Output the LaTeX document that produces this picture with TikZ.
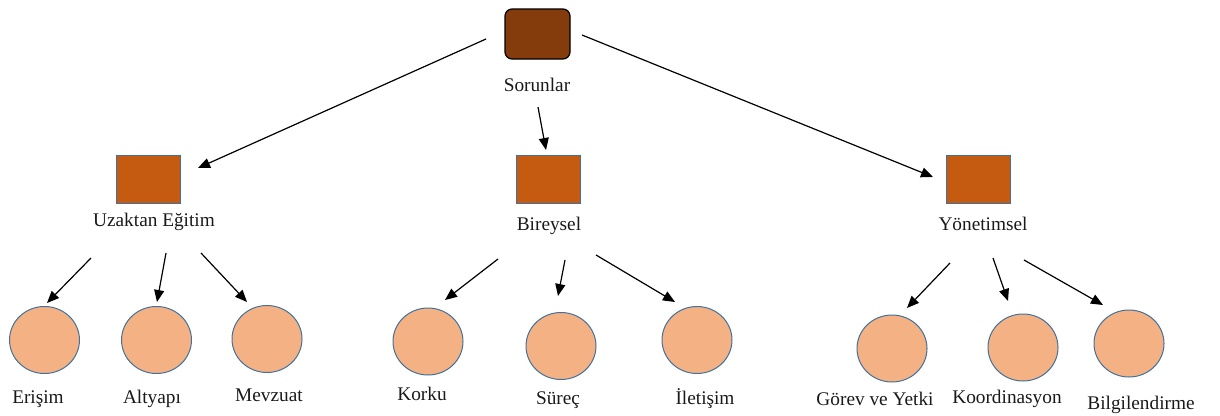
\documentclass[tikz,border=0pt]{standalone}
\usepackage{fontspec}
\setmainfont{Liberation Serif}
\usetikzlibrary{arrows.meta,shapes.geometric}
\definecolor{topfill}{HTML}{843C0C}
\definecolor{sqfill}{HTML}{C55A11}
\definecolor{cfill}{HTML}{F4B183}
\definecolor{bord}{HTML}{41719C}
\begin{document}
\begin{tikzpicture}[x=1pt,y=-1pt,
  lbl/.style={anchor=base,inner sep=0pt,font=\fontsize{19.3}{23}\selectfont,text=black!90},
  topbox/.style={draw=black,line width=1.2pt,fill=topfill,rounded corners=7pt,minimum width=65pt,minimum height=50pt,inner sep=0pt},
  sqbox/.style={draw=bord,line width=1pt,fill=sqfill,minimum width=64pt,minimum height=48pt,inner sep=0pt},
  leaf/.style={ellipse,draw=bord,line width=1pt,fill=cfill,minimum width=70pt,minimum height=67pt,inner sep=0pt},
  arr/.style={line width=1.2pt,-{Triangle[length=12pt,width=10pt]}}]
\useasboundingbox (0,0) rectangle (1220,415);
% top
\node[topbox] (top) at (537.5,34) {};
\node[lbl] (ltop) at (537,91) {Sorunlar};
% second level
\node[sqbox] (s1) at (148.5,179.5) {};
\node[lbl] (l1) at (154,226) {Uzaktan Eğitim};
\node[sqbox] (s2) at (548,179) {};
\node[lbl] (l2) at (549,230) {Bireysel};
\node[sqbox] (s3) at (978.5,179) {};
\node[lbl] (l3) at (983,230) {Yönetimsel};
% leaves
\node[leaf] (c1) at (44.5,340) {};
\node[leaf] (c2) at (156.5,340) {};
\node[leaf] (c3) at (267,339) {};
\node[leaf] (c4) at (428,341.5) {};
\node[leaf] (c5) at (561,346) {};
\node[leaf] (c6) at (697,340) {};
\node[leaf] (c7) at (892,348.5) {};
\node[leaf] (c8) at (1023,347.5) {};
\node[leaf] (c9) at (1129,343.5) {};
\node[lbl] (t1) at (38,403) {Erişim};
\node[lbl] (t2) at (152,403) {Altyapı};
\node[lbl] (t3) at (269,401) {Mevzuat};
\node[lbl] (t4) at (422,400) {Korku};
\node[lbl] (t5) at (558,404) {Süreç};
\node[lbl] (t6) at (705,404) {İletişim};
\node[lbl] (t7) at (875,405) {Görev ve Yetki};
\node[lbl] (t8) at (1007,403) {Koordinasyon};
\node[lbl] (t9) at (1141,409) {Bilgilendirme};
% arrow end points
\coordinate (a1s) at (486,39);  \coordinate (a1e) at (198,168);
\coordinate (a2s) at (538,107); \coordinate (a2e) at (546,150);
\coordinate (a3s) at (582,35);  \coordinate (a3e) at (933,177);
\coordinate (b1s) at (91,258);  \coordinate (b1e) at (47,303);
\coordinate (b2s) at (166,253); \coordinate (b2e) at (157,302);
\coordinate (b3s) at (201,253); \coordinate (b3e) at (247,302);
\coordinate (b4s) at (498,259); \coordinate (b4e) at (445,300);
\coordinate (b5s) at (565,260); \coordinate (b5e) at (558,296);
\coordinate (b6s) at (596,255); \coordinate (b6e) at (675,302);
\coordinate (b7s) at (950,263); \coordinate (b7e) at (907,308);
\coordinate (b8s) at (993,258); \coordinate (b8e) at (1008,301);
\coordinate (b9s) at (1024,260); \coordinate (b9e) at (1103,305);
\foreach \a in {a1,a2,a3,b1,b2,b3,b4,b5,b6,b7,b8,b9}
  \draw[arr] (\a s) -- (\a e);
\end{tikzpicture}
\end{document}
